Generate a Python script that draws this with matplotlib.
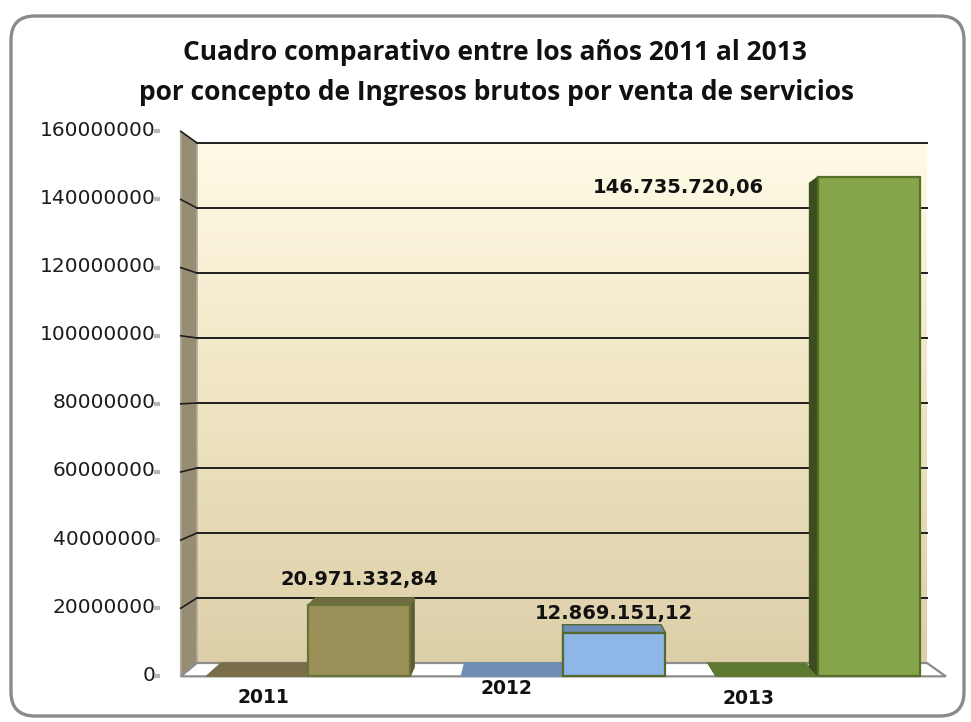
import numpy as np
import matplotlib.pyplot as plt
from matplotlib.patches import Polygon, FancyBboxPatch
from matplotlib.colors import LinearSegmentedColormap
from matplotlib.transforms import offset_copy

# datos (serie 1 = los años graficados como valor, serie 2 = ingresos)
anios = ['2011', '2012', '2013']
serie_anio = [2011, 2012, 2013]
ingresos = [20971332.84, 12869151.12, 146735720.06]
yticks = [0, 20000000, 40000000, 60000000, 80000000,
          100000000, 120000000, 140000000, 160000000]

col_front = ['#9b9058', '#8eb6e6', '#86a44a']
col_top = ['#6f6a40', '#6c8cb8', '#5f7a32']
col_side = ['#5e5a36', '#5a7598', '#3d4d1f']
col_flat = ['#7a6e48', '#6d8db4', '#5e7a30']
col_edge = ['#66743a', '#55692c', '#566f2b']

W, H = 971, 722
fig = plt.figure(figsize=(W / 100, H / 100), dpi=100)

# marco redondeado
bg = fig.add_axes([0, 0, 1, 1])
bg.set_xlim(0, W)
bg.set_ylim(H, 0)
bg.axis('off')
bg.add_patch(FancyBboxPatch((11, 16), 953, 700,
                            boxstyle='round,pad=0,rounding_size=24',
                            fc='white', ec='#8a8a8a', lw=2.4))

# pared del fondo
ax = fig.add_axes([197 / W, (H - 663) / H, 730 / W, 520 / H])
ax.axis('off')
grad = np.linspace(0, 1, 256).reshape(-1, 1)
cmap_wall = LinearSegmentedColormap.from_list('pared', ['#dccfa8', '#efe4c2', '#fffbe6'])
ax.imshow(grad, extent=(-0.5, 2.5, 0, 160e6), origin='lower', aspect='auto',
          cmap=cmap_wall, zorder=0)
ax.set_xlim(-0.5, 2.5)
ax.set_ylim(0, 160e6)

# perspectiva simple: escala alrededor de un punto de fuga
cx, cy = 0.89, 85.5e6
sf, sb = 1.048, 1.015


def proj(x, y, s):
    return (cx + s * (x - cx), cy + s * (y - cy))


def poly(pts, **kw):
    p = Polygon(pts, closed=True, clip_on=False, **kw)
    ax.add_patch(p)
    return p


# pared lateral
x_izq = -0.5
poly([proj(x_izq, 0, 1), proj(x_izq, 160e6, 1), proj(x_izq, 160e6, sf), proj(x_izq, 0, sf)],
     fc='#978d75', ec='#b3ab98', lw=1.2, zorder=1)

# piso
poly([proj(-0.5, 0, 1), proj(2.5, 0, 1), proj(2.5, 0, sf), proj(-0.5, 0, sf)],
     fc='white', ec='#8c8c8c', lw=1.6, zorder=1.5)

# lineas de division
for v in yticks[1:]:
    ax.plot([-0.5, 2.5], [v, v], color='#1e1e1e', lw=1.4, zorder=1, clip_on=False)
    a, b = proj(x_izq, v, 1), proj(x_izq, v, sf)
    ax.plot([a[0], b[0]], [a[1], b[1]], color='#1e1e1e', lw=1.2, zorder=1.2, clip_on=False)

# etiquetas eje y
for v in yticks:
    p = proj(x_izq, v, sf)
    ax.annotate(f'{v}', p, xytext=(-25, 1), textcoords='offset pixels',
                ha='right', va='center', fontsize=14.5, color='#1c1c1c',
                annotation_clip=False)
    tr = offset_copy(ax.transData, fig=fig, x=-24, y=0, units='dots')
    ax.plot([p[0]], [p[1]], marker='_', ms=4, mew=3, color='#a5a5a5', alpha=0.8,
            transform=tr, clip_on=False, zorder=3)

# barras 3d
ancho = 0.4
for i in range(len(anios)):
    for j, (val, x0) in enumerate([(serie_anio[i], i - ancho), (ingresos[i], i)]):
        x1 = x0 + ancho
        fc = col_flat[i] if j == 0 else col_front[i]
        z = 2 + j
        s_fondo = 1.0 if j == 0 else sb
        # lado visible
        xs = x0 if x0 > cx else x1
        poly([proj(xs, 0, sf), proj(xs, val, sf), proj(xs, val, s_fondo), proj(xs, 0, s_fondo)],
             fc=col_side[i], ec=col_side[i], lw=0.8, zorder=z)
        # cara superior
        if val < cy:
            poly([proj(x0, val, sf), proj(x1, val, sf), proj(x1, val, s_fondo), proj(x0, val, s_fondo)],
                 fc=col_top[i] if j == 1 else col_flat[i],
                 ec=col_edge[i] if j == 1 else col_flat[i], lw=1.0, zorder=z)
        # frente
        if j == 1:
            poly([proj(x0, 0, sf), proj(x1, 0, sf), proj(x1, val, sf), proj(x0, val, sf)],
                 fc=fc, ec=col_edge[i], lw=1.6, zorder=z + 0.1)

# etiquetas de datos
desfase = [(0, 25), (0, 19), (-191, -11)]
for i, val in enumerate(ingresos):
    txt = f'{val:,.2f}'.replace(',', '#').replace('.', ',').replace('#', '.')
    p = proj(i + ancho / 2, val, sf)
    ax.annotate(txt, p, xytext=desfase[i], textcoords='offset pixels',
                ha='center', va='center', fontsize=14, fontweight='bold',
                color='#111111', annotation_clip=False, zorder=6)

# etiquetas eje x
desfase_x = [(6, -21), (-6, -12), (-19, -22)]
for i, a in enumerate(anios):
    p = proj(i - 0.2, 0, sf)
    ax.annotate(a, p, xytext=desfase_x[i], textcoords='offset pixels',
                ha='center', va='center', fontsize=13.5, fontweight='bold',
                color='#111111', annotation_clip=False)

# titulo
fig.text(495 / W, 1 - 60 / H, 'Cuadro comparativo entre los años 2011 al 2013',
         ha='center', va='baseline', fontsize=19, fontweight='bold',
         family='Open Sans', color='#111111')
fig.text(496 / W, 1 - 100 / H, 'por concepto de Ingresos brutos por venta de servicios',
         ha='center', va='baseline', fontsize=19, fontweight='bold',
         family='Open Sans', color='#111111')

fig.savefig('out.png', dpi=100)
